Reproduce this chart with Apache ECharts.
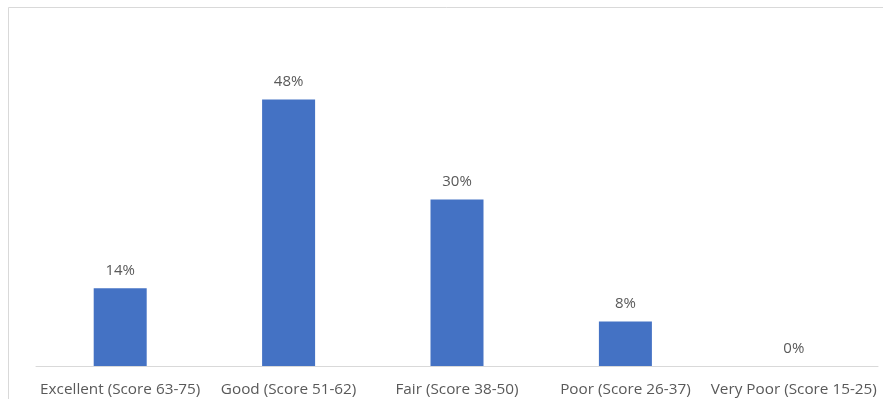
<!DOCTYPE html>
<html>
<head>
<meta charset="utf-8">
<script src="https://cdn.jsdelivr.net/npm/echarts@6/dist/echarts.min.js"></script>
<style>html,body{margin:0;padding:0;background:#fff;}#c{width:883px;height:399px;}</style>
</head>
<body>
<div id="c"></div>
<script>
var categories = ['Excellent (Score 63-75)', 'Good (Score 51-62)', 'Fair (Score 38-50)', 'Poor (Score 26-37)', 'Very Poor (Score 15-25)'];
var values = [14, 48, 30, 8, 0];

var chart = echarts.init(document.getElementById('c'), null, {renderer: 'canvas'});
chart.setOption({
  animation: false,
  backgroundColor: '#ffffff',
  graphic: [{
    type: 'rect', silent: true, z: -1,
    shape: {x: 8.5, y: 7.5, width: 1000, height: 1000},
    style: {fill: null, stroke: '#d9d9d9', lineWidth: 1}
  }],
  grid: {left: 36, right: 5, top: 33, bottom: 33, containLabel: false},
  xAxis: {
    type: 'category',
    data: categories,
    axisLine: {lineStyle: {color: '#d9d9d9', width: 1}},
    axisTick: {show: false},
    axisLabel: {color: '#595959', fontSize: 15.3, fontFamily: 'Open Sans', margin: 16, interval: 0}
  },
  yAxis: {type: 'value', min: 0, max: 60, show: false, splitLine: {show: false}},
  series: [{
    type: 'bar',
    data: values,
    barWidth: 53,
    itemStyle: {color: '#4472c4'},
    label: {show: true, position: 'top', distance: 10, formatter: '{c}%', color: '#595959', fontSize: 15, fontFamily: 'Open Sans'}
  }]
});
</script>
</body>
</html>
